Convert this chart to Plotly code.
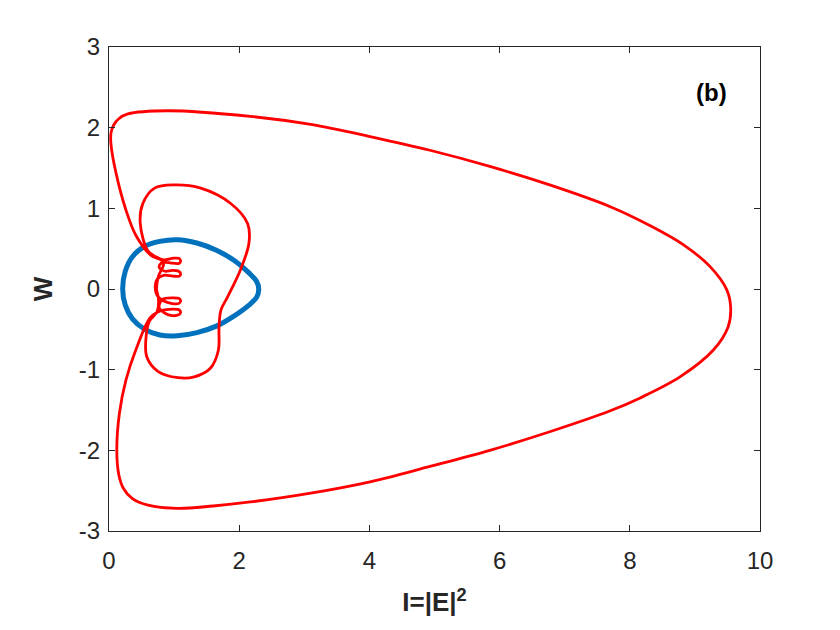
import plotly.graph_objects as go

# blue closed curve
blue_x = [0.21, 0.25, 0.36, 0.55, 0.78, 1.05, 1.35, 1.65, 1.93, 2.15, 2.27, 2.3, 2.27, 2.15, 1.93, 1.65, 1.35, 1.05, 0.78, 0.55, 0.36, 0.25, 0.21]
blue_y = [0.0, 0.22, 0.4, 0.53, 0.59, 0.61, 0.57, 0.48, 0.35, 0.2, 0.09, 0.0, -0.1, -0.2, -0.33, -0.46, -0.54, -0.58, -0.57, -0.5, -0.37, -0.2, 0.0]

# red curve, traced in one pass
red_x = [0.84, 0.64, 0.41, 0.26, 0.11, 0.03, 0.03, 0.07, 0.15, 0.29, 0.9, 2.17, 3.1, 4.01, 4.93, 5.85, 6.77, 7.7, 8.3, 8.82, 9.23, 9.49, 9.55,
         9.51, 9.28, 8.77, 8.16, 7.7, 6.77, 5.85, 4.93, 4.01, 3.1, 2.17, 1.6, 1.05, 0.6, 0.36, 0.22, 0.15, 0.12, 0.16, 0.26, 0.41, 0.64,
         0.8, 0.98, 1.08, 1.1, 1.07, 0.97, 0.86, 0.77,
         0.82, 0.98, 1.08, 1.1, 1.07, 0.97, 0.84, 0.74, 0.71, 0.74,
         0.84, 0.98, 1.08, 1.1, 1.07, 0.97, 0.86, 0.77,
         0.82, 0.98, 1.08, 1.1, 1.07, 0.97, 0.84, 0.72, 0.6,
         0.48, 0.52, 0.7, 1.0, 1.41, 1.87, 2.13, 2.15, 2.02, 1.82, 1.72, 1.69, 1.68, 1.56, 1.31, 1.06, 0.75, 0.58, 0.57, 0.62,
         0.74, 0.76, 0.73, 0.76, 0.84]
red_y = [0.33, 0.42, 0.67, 0.98, 1.43, 1.8, 1.93, 2.03, 2.11, 2.17, 2.21, 2.14, 2.04, 1.89, 1.72, 1.52, 1.29, 1.02, 0.79, 0.55, 0.28, -0.01, -0.24,
         -0.47, -0.76, -1.09, -1.35, -1.51, -1.77, -2.0, -2.2, -2.39, -2.53, -2.64, -2.69, -2.72, -2.68, -2.6, -2.47, -2.3, -2.0, -1.54, -1.13, -0.76, -0.35,
         -0.27, -0.25, -0.26, -0.29, -0.32, -0.33, -0.3, -0.23,
         -0.13, -0.11, -0.12, -0.15, -0.18, -0.18, -0.15, -0.08, 0.02, 0.12,
         0.17, 0.16, 0.16, 0.19, 0.22, 0.23, 0.22, 0.27,
         0.33, 0.32, 0.32, 0.35, 0.38, 0.38, 0.36, 0.4, 0.47,
         0.81, 1.06, 1.25, 1.29, 1.25, 1.06, 0.81, 0.57, 0.24, -0.1, -0.26, -0.47, -0.76, -0.98, -1.09, -1.1, -1.02, -0.84, -0.59, -0.4,
         -0.28, -0.12, 0.0, 0.16, 0.33]

x_ticks = [0, 2, 4, 6, 8, 10]
y_ticks = [-3, -2, -1, 0, 1, 2, 3]

fig = go.Figure()
fig.add_trace(go.Scatter(x=blue_x, y=blue_y, mode='lines',
                         line=dict(color='#0072BD', width=5, shape='spline', smoothing=1.0)))
fig.add_trace(go.Scatter(x=red_x, y=red_y, mode='lines',
                         line=dict(color='#ff0000', width=2.8, shape='spline', smoothing=1.0)))

axis_style = dict(showline=True, mirror='ticks', linecolor='#262626', linewidth=1,
                  ticks='inside', ticklen=6, tickcolor='#262626', showgrid=False, zeroline=False,
                  automargin=False,
                  tickfont=dict(family='Liberation Sans, Arial', size=24, color='#262626'))

# page body has an 8px margin, so the plot area is shifted back by that much
fig.update_layout(
    width=840, height=630,
    paper_bgcolor='white', plot_bgcolor='white',
    margin=dict(l=101, r=88, t=39, b=107),
    showlegend=False,
    xaxis=dict(range=[0, 10], tickvals=x_ticks, ticktext=[str(v) for v in x_ticks],
               ticklabelstandoff=8,
               title=dict(text='<b>I=|E|<sup>2</sup></b>', standoff=20,
                          font=dict(family='Liberation Sans, Arial', size=26, color='#262626')),
               **axis_style),
    yaxis=dict(range=[-3, 3], tickvals=y_ticks, ticktext=[str(v) for v in y_ticks],
               ticklabelstandoff=3,
               title=dict(text='<b>W</b>', standoff=18,
                          font=dict(family='Liberation Sans, Arial', size=26, color='#262626')),
               **axis_style),
    annotations=[dict(x=9.26, y=2.44, xref='x', yref='y', text='<b>(b)</b>', showarrow=False,
                      font=dict(family='Liberation Sans, Arial', size=24, color='black'))],
)

fig.write_html("out.html")
